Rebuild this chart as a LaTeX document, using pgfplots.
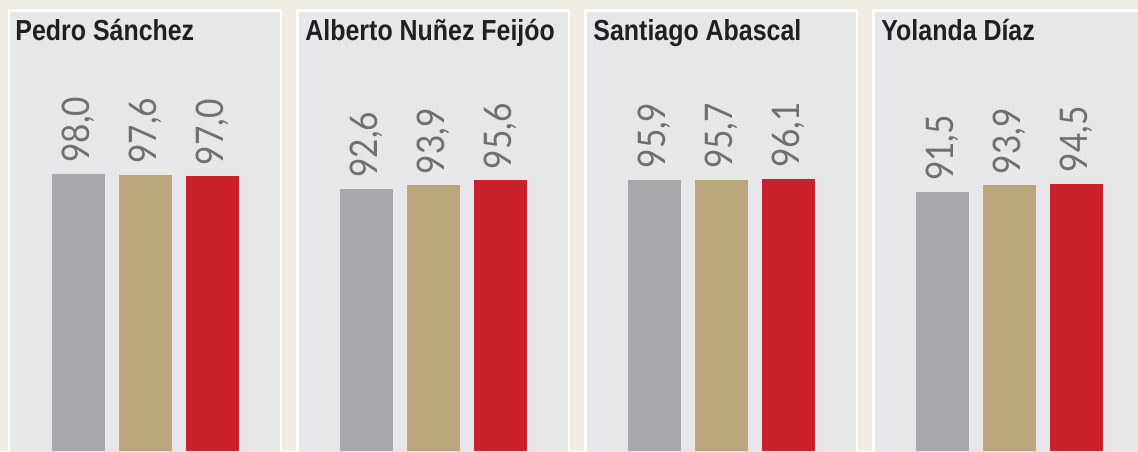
\documentclass[border=0pt]{standalone}
\usepackage{pgfplots}
\pgfplotsset{compat=1.18}
\usepackage{fontspec}
\setmainfont{Liberation Sans}
\newfontfamily\titlefont{Liberation Sans}[FakeStretch=0.86]
\newfontfamily\lblfont{Lato}[FakeStretch=0.88]
\definecolor{cbg}{HTML}{F0ECE1}
\definecolor{cpanel}{HTML}{E6E7E9}
\definecolor{cgrayb}{HTML}{A7A8AB}
\definecolor{ctan}{HTML}{BAA67B}
\definecolor{cred}{HTML}{CA222A}
\definecolor{clabel}{HTML}{6E6F71}
\definecolor{ctitle}{HTML}{231F20}
\pgfplotsset{
  panel/.style={
    anchor=south west,
    scale only axis, width=271.5pt, height=454.8pt,
    xmin=-0.03, xmax=4.022, ymin=-5, ymax=155.7,
    xtick=\empty, ytick=\empty,
    axis background/.style={fill=cpanel},
    axis line style={draw=white, line width=2.5pt},
    ybar, bar width=53pt, bar shift=0pt, clip=false,
    nodes near coords,
    every node near coord/.append style={rotate=90, anchor=west, inner sep=0pt, xshift=11pt,
      font=\lblfont\fontsize{38}{40}\selectfont, text=clabel},
    /pgf/number format/use comma,
    /pgf/number format/fixed,
    /pgf/number format/fixed zerofill,
    /pgf/number format/precision=1,
    /pgf/number format/assume math mode=true,
  }
}
\tikzset{ptitle/.style={anchor=base west, inner sep=0pt, text=ctitle,
    font=\titlefont\bfseries\fontsize{29}{31}\selectfont}}
\begin{document}
\begin{tikzpicture}
\useasboundingbox (0,0) rectangle (1138pt,451pt);
\fill[cbg] (0,0) rectangle (1138pt,451pt);
% Panel 1
\begin{axis}[panel, at={(9.25pt,-14.15pt)}]
\addplot[fill=cgrayb, draw=none] coordinates {(1,98.0)};
\addplot[fill=ctan, draw=none] coordinates {(2,97.6)};
\addplot[fill=cred, draw=none] coordinates {(3,97.0)};
\node[ptitle] at (axis description cs:0,1) [xshift=6pt, yshift=-30.5pt] {Pedro Sánchez};
\end{axis}
% Panel 2
\begin{axis}[panel, at={(297.25pt,-14.15pt)}]
\addplot[fill=cgrayb, draw=none] coordinates {(1,92.6)};
\addplot[fill=ctan, draw=none] coordinates {(2,93.9)};
\addplot[fill=cred, draw=none] coordinates {(3,95.6)};
\node[ptitle] at (axis description cs:0,1) [xshift=8pt, yshift=-30.5pt] {Alberto Nuñez Feijóo};
\end{axis}
% Panel 3
\begin{axis}[panel, at={(585.25pt,-14.15pt)}]
\addplot[fill=cgrayb, draw=none] coordinates {(1,95.9)};
\addplot[fill=ctan, draw=none] coordinates {(2,95.7)};
\addplot[fill=cred, draw=none] coordinates {(3,96.1)};
\node[ptitle] at (axis description cs:0,1) [xshift=8pt, yshift=-30.5pt] {Santiago Abascal};
\end{axis}
% Panel 4
\begin{axis}[panel, at={(873.25pt,-14.15pt)}]
\addplot[fill=cgrayb, draw=none] coordinates {(1,91.5)};
\addplot[fill=ctan, draw=none] coordinates {(2,93.9)};
\addplot[fill=cred, draw=none] coordinates {(3,94.5)};
\node[ptitle] at (axis description cs:0,1) [xshift=8pt, yshift=-30.5pt] {Yolanda Díaz};
\end{axis}
\end{tikzpicture}
\end{document}
